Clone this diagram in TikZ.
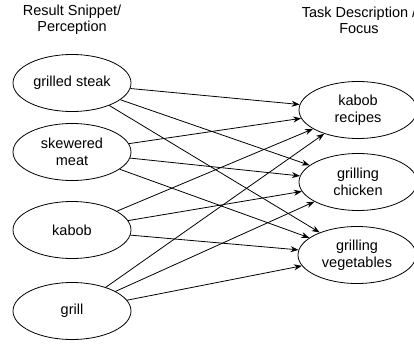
\documentclass[tikz,border=0pt]{standalone}
\usepackage{fontspec}
\setmainfont{Liberation Sans}
\usetikzlibrary{shapes.geometric,arrows.meta}

\begin{document}
\begin{tikzpicture}[
    x=1pt, y=-1pt,
    term/.style={ellipse, draw, line width=0.8pt, minimum width=118pt, minimum height=57pt, inner sep=0pt, align=center, font=\fontsize{14.5}{17.5}\selectfont},
    heading/.style={align=center, font=\fontsize{14.5}{16}\selectfont},
    arrow/.style={-{Stealth[length=8pt,width=6pt]}, line width=0.8pt}
]
    \useasboundingbox (0,0) rectangle (414,343);

    % Column headings
    \node[heading] (lefthead) at (72, 20) {Result Snippet/\\Perception};
    \node[heading] (righthead) at (359, 20) {Task Description /\\Focus};

    % Result snippets
    \node[term] (steak) at (72, 83) {grilled steak};
    \node[term] (meat) at (72, 152) {skewered\\meat};
    \node[term] (kabob) at (72, 230) {kabob};
    \node[term] (grill) at (72, 311) {grill};

    % Task descriptions
    \node[term] (recipes) at (358, 110) {kabob\\recipes};
    \node[term] (chicken) at (358, 182) {grilling\\chicken};
    \node[term] (veg) at (357, 255) {grilling\\vegetables};

    % From grilled steak
    \draw[arrow] (steak) -- (recipes);
    \draw[arrow] (steak) -- (chicken);
    \draw[arrow] (steak) -- (veg);

    % From skewered meat
    \draw[arrow] (meat) -- (recipes);
    \draw[arrow] (meat) -- (chicken);
    \draw[arrow] (meat) -- (veg);

    % From kabob
    \draw[arrow] (kabob) -- (recipes);
    \draw[arrow] (kabob) -- (chicken);
    \draw[arrow] (kabob) -- (veg);

    % From grill
    \draw[arrow] (grill) -- (recipes);
    \draw[arrow] (grill) -- (chicken);
    \draw[arrow] (grill) -- (veg);
\end{tikzpicture}
\end{document}
